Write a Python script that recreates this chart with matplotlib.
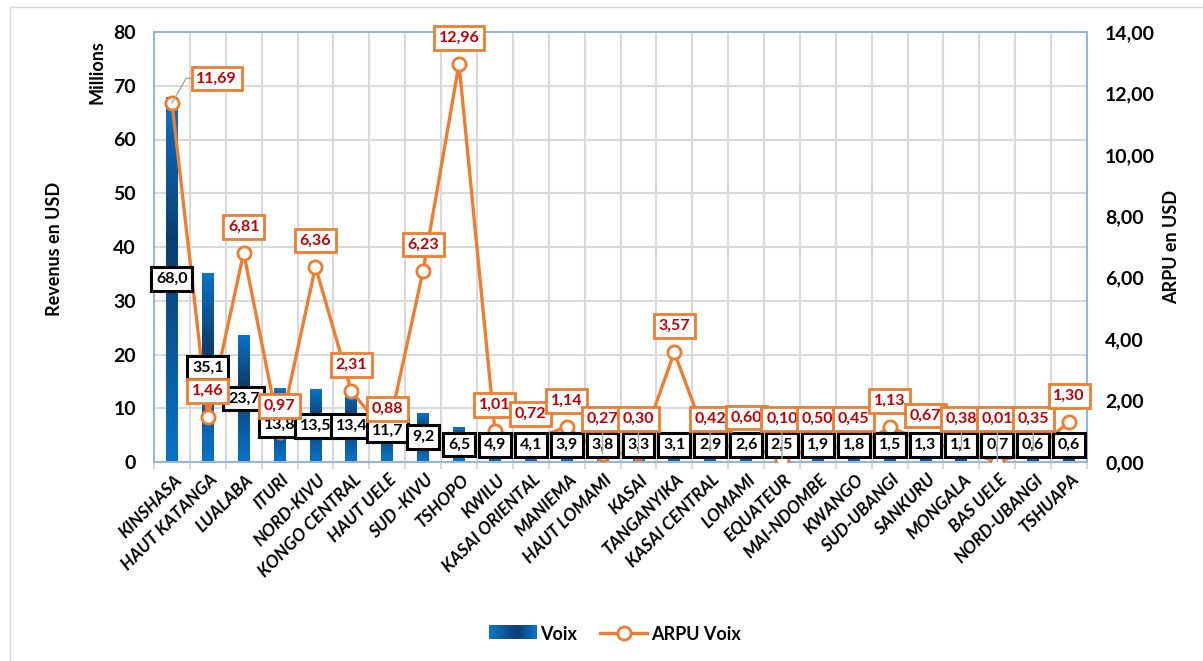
import matplotlib
matplotlib.use('Agg')
import matplotlib.pyplot as plt
import numpy as np
from matplotlib.colors import LinearSegmentedColormap
from matplotlib.patches import Rectangle
from matplotlib.lines import Line2D
from matplotlib.legend_handler import HandlerBase
import matplotlib.transforms as mtransforms

# Data
provinces = ['KINSHASA', 'HAUT KATANGA', 'LUALABA', 'ITURI', 'NORD-KIVU',
             'KONGO CENTRAL', 'HAUT UELE', 'SUD -KIVU', 'TSHOPO', 'KWILU',
             'KASAI ORIENTAL', 'MANIEMA', 'HAUT LOMAMI', 'KASAI', 'TANGANYIKA',
             'KASAI CENTRAL', 'LOMAMI', 'EQUATEUR', 'MAI-NDOMBE', 'KWANGO',
             'SUD-UBANGI', 'SANKURU', 'MONGALA', 'BAS UELE', 'NORD-UBANGI',
             'TSHUAPA']
voix = [68.0, 35.1, 23.7, 13.8, 13.5, 13.4, 11.7, 9.2, 6.5, 4.9, 4.1, 3.9, 3.8,
        3.3, 3.1, 2.9, 2.6, 2.5, 1.9, 1.8, 1.5, 1.3, 1.1, 0.7, 0.6, 0.6]
arpu = [11.69, 1.46, 6.81, 0.97, 6.36, 2.31, 0.88, 6.23, 12.96, 1.01, 0.72,
        1.14, 0.27, 0.30, 3.57, 0.42, 0.60, 0.10, 0.50, 0.45, 1.13, 0.67, 0.38,
        0.01, 0.35, 1.30]

plt.rcParams['font.family'] = ['Lato', 'DejaVu Sans']

ORANGE = '#ED7D31'
grad = LinearSegmentedColormap.from_list(
    'bar', [(0, '#0A73C8'), (0.6, '#0C3D6E'), (1, '#0A73C8')])


def fmt(v, d):
    return f'{v:.{d}f}'.replace('.', ',')


fig = plt.figure(figsize=(12.03, 6.61), dpi=100)
W, H = 1203, 661
ax = fig.add_axes([154 / W, 1 - 462 / H, 933 / W, 430 / H])
ax2 = ax.twinx()

x = np.arange(len(provinces))

# bars with vertical gradient
bars = ax.bar(x, voix, width=0.33, color='#0A73C8', zorder=2)
g = np.linspace(1, 0, 200).reshape(-1, 1)
for b in bars:
    x0, w, h = b.get_x(), b.get_width(), b.get_height()
    im = ax.imshow(g, cmap=grad, extent=[x0, x0 + w, 0, h], aspect='auto',
                   zorder=2.1, interpolation='bilinear')
    im.set_clip_path(b)
    b.set_alpha(0)

ax.set_xlim(-0.5, len(provinces) - 0.5)
ax.set_ylim(0, 80)
ax2.set_ylim(0, 14)

ax2.plot(x, arpu, color=ORANGE, lw=2.4, marker='o', ms=9.5, mfc='white',
         mec=ORANGE, mew=2, zorder=3)

# gridlines
ax.set_yticks(np.arange(0, 81, 10))
ax2.set_yticks(np.arange(0, 14.1, 2))
ax.set_xticks(x)
ax.set_xticks(np.arange(-0.5, len(provinces), 1), minor=True)
ax.set_axisbelow(True)
ax.grid(axis='y', which='major', color='#D9D9D9', lw=1.5)
ax.grid(axis='x', which='minor', color='#D9D9D9', lw=1.5)
ax.tick_params(axis='x', which='major', length=0, pad=7)
ax.tick_params(axis='x', which='minor', length=5, color='#D9D9D9', width=1.5)
ax.tick_params(axis='y', length=0, pad=13, labelsize=14)
ax2.tick_params(axis='y', length=0, pad=13, labelsize=14)
for a in (ax, ax2):
    for s in a.spines.values():
        s.set_color('#8DB8E2')
        s.set_linewidth(1.3)

ax.set_yticklabels([str(int(v)) for v in ax.get_yticks()], fontweight='bold')
ax2.set_yticklabels([fmt(v, 2) for v in ax2.get_yticks()], fontweight='bold')
ax.set_xticklabels(provinces, rotation=45, ha='right', rotation_mode='anchor',
                   fontsize=12.5, fontweight='bold', fontstyle='italic')
off = mtransforms.ScaledTranslation(1 / 72, 0, fig.dpi_scale_trans)
for lab in ax.get_xticklabels():
    lab.set_transform(lab.get_transform() + off)

# bar value labels (centred in the bar, kept above the axis)
for xi, v in zip(x, voix):
    ax2.text(xi, max(v / 2, 3.2), fmt(v, 1), transform=ax.transData,
             ha='center', va='center', fontsize=11.5, fontweight='bold',
             color='black', zorder=5,
             bbox=dict(boxstyle='square,pad=0.3', fc='white', ec='black', lw=2.2))

# ARPU labels
for xi, v in zip(x, arpu):
    box = dict(boxstyle='square,pad=0.3', fc='white', ec=ORANGE, lw=2)
    kw = dict(ha='center', va='center', fontsize=11.5, fontweight='bold',
              color='#C00000', zorder=6, bbox=box)
    if xi == 0:
        ax2.annotate(fmt(v, 2), (xi, v), xytext=(xi + 1.25, v + 0.8),
                     arrowprops=dict(arrowstyle='-', color='#A6A6A6', lw=1,
                                     connectionstyle='angle,angleA=0,angleB=60',
                                     shrinkA=0, shrinkB=0), **kw)
        continue
    ly = max(v + 0.85, 1.4)
    if ly - v > 0.95:
        ax2.annotate(fmt(v, 2), (xi, v), xytext=(xi, ly),
                     arrowprops=dict(arrowstyle='-', color='#A6A6A6', lw=1,
                                     shrinkA=0, shrinkB=0), **kw)
    else:
        ax2.text(xi, ly, fmt(v, 2), **kw)

# axis titles
fig.text(55 / W, 1 - 249 / H, 'Revenus en USD', rotation=90, ha='center',
         va='center', fontsize=13, fontweight='bold')
fig.text(97 / W, 1 - 72 / H, 'Millions', rotation=90, ha='center',
         va='center', fontsize=13, fontweight='bold')
fig.text(1172 / W, 1 - 247 / H, 'ARPU en USD', rotation=90, ha='center',
         va='center', fontsize=13, fontweight='bold')


# legend with gradient patch
class GradHandler(HandlerBase):
    def create_artists(self, legend, orig, xd, yd, w, h, fs, trans):
        n = 30
        out = []
        for i in range(n):
            r = Rectangle((xd + w * i / n, yd), w / n + 0.3, h,
                          fc=grad(i / (n - 1)), ec='none', transform=trans)
            out.append(r)
        return out


h_bar = Rectangle((0, 0), 1, 1)
h_line = Line2D([], [], color=ORANGE, lw=2.4, marker='o', ms=9.5, mfc='white',
                mec=ORANGE, mew=2)
fig.legend([h_bar, h_line], ['Voix', 'ARPU Voix'], loc='center',
           bbox_to_anchor=(615 / W, 1 - 634 / H), ncol=2, frameon=False,
           handler_map={h_bar: GradHandler()}, handlelength=2.6,
           handleheight=0.8, handletextpad=0.2, columnspacing=1.3,
           prop=dict(weight='bold', size=13))

# chart frame (top and left edges)
fig.add_artist(Line2D([10 / W, 10 / W], [0, 1 - 7 / H], color='#D9D9D9', lw=1))
fig.add_artist(Line2D([10 / W, 1], [1 - 7 / H, 1 - 7 / H], color='#D9D9D9', lw=1))

fig.savefig('out.png', dpi=100, facecolor='white')
